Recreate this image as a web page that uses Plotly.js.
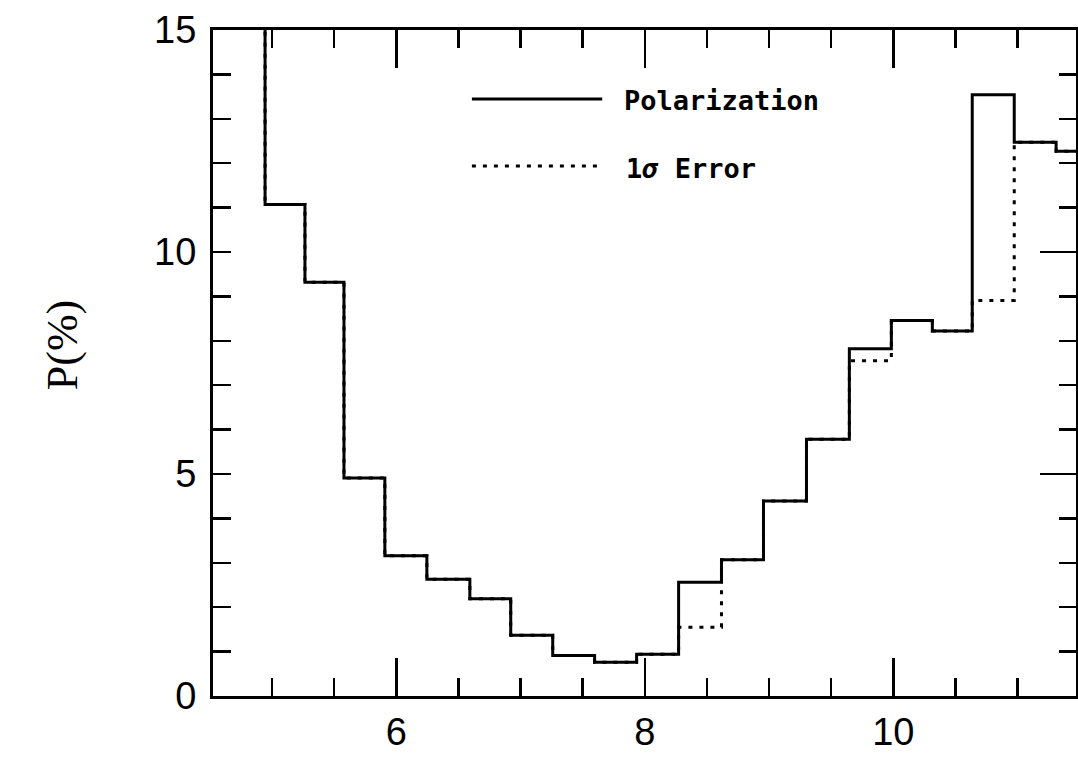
<!DOCTYPE html>
<html>
<head>
<meta charset="utf-8">
<script src="https://cdn.plot.ly/plotly-3.0.1.min.js"></script>
<style>
  html, body { margin: 0; padding: 0; background: #ffffff; }
  #chart { width: 1078px; height: 761px; }
</style>
</head>
<body>
<div id="chart"></div>
<script>
// Bin edges (x); first bin is off-scale (above 15 %)
const binEdges = [4.61, 4.944, 5.265, 5.579, 5.908, 6.246, 6.592, 6.921, 7.259, 7.596, 7.934,
                  8.272, 8.617, 8.955, 9.301, 9.646, 9.984, 10.314, 10.635, 10.973, 11.31, 11.64];
// Polarization per bin (%)
const polarization = [17.0, 11.07, 9.32, 4.91, 3.16, 2.63, 2.19, 1.37, 0.91, 0.76, 0.94,
                      2.56, 3.07, 4.39, 5.78, 7.82, 8.46, 8.22, 13.54, 12.47, 12.27];
// 1-sigma error curve per bin (%)
const errorSigma = [17.0, 11.07, 9.32, 4.91, 3.16, 2.63, 2.19, 1.37, 0.91, 0.76, 0.94,
                    1.55, 3.07, 4.39, 5.78, 7.55, 8.46, 8.22, 8.91, 12.47, 12.27];
const xTickVals = [6, 8, 10];
const yTickVals = [0, 5, 10, 15];
const yTickText = ['0', '5', '10', '15'];
const seriesNames = ['Polarization', '1<i>σ</i> Error'];

function stepXY(edges, vals) {
  const xs = edges.slice(0, vals.length).concat([edges[vals.length]]);
  const ys = vals.concat([vals[vals.length - 1]]);
  return { xs, ys };
}

const pol = stepXY(binEdges, polarization);
const err = stepXY(binEdges, errorSigma);

const traces = [
  {
    x: pol.xs, y: pol.ys, type: 'scatter', mode: 'lines', name: 'Polarization',
    line: { shape: 'hv', color: '#000000', width: 3 },
    xaxis: 'x', yaxis: 'y', showlegend: false, hoverinfo: 'x+y'
  },
  {
    x: err.xs, y: err.ys, type: 'scatter', mode: 'lines', name: '1σ Error',
    line: { shape: 'hv', color: '#000000', width: 3, dash: '4px,7px' },
    xaxis: 'x', yaxis: 'y2', showlegend: false, hoverinfo: 'x+y'
  }
];

const tickFont = { family: 'Liberation Sans, Arial, sans-serif', size: 38, color: '#000000' };
const legendFont = { family: 'DejaVu Sans Mono, Liberation Mono, monospace', size: 27, color: '#000000', weight: 'bold' };

const layout = {
  width: 1078, height: 761,
  margin: { l: 213, r: 2, t: 30, b: 65 },
  paper_bgcolor: '#ffffff', plot_bgcolor: '#ffffff',
  showlegend: false,
  xaxis: {
    range: [4.525, 11.47], autorange: false,
    tickvals: xTickVals, ticktext: xTickVals.map(String),
    ticks: 'inside', ticklen: 38, tickwidth: 2.5, tickcolor: '#000000',
    minor: { dtick: 0.5, tick0: 0, ticks: 'inside', ticklen: 18, tickwidth: 2.5, tickcolor: '#000000', showgrid: false },
    showline: true, linewidth: 3, linecolor: '#000000', mirror: 'ticks',
    showgrid: false, zeroline: false,
    tickfont: tickFont, ticklabelstandoff: 0
  },
  yaxis: {
    range: [0, 15], autorange: false,
    tickvals: yTickVals, ticktext: yTickText,
    ticks: 'inside', ticklen: 18, tickwidth: 2.5, tickcolor: '#000000',
    minor: { dtick: 1, tick0: 0, ticks: 'inside', ticklen: 18, tickwidth: 2.5, tickcolor: '#000000', showgrid: false },
    showline: true, linewidth: 3, linecolor: '#000000', mirror: false,
    showgrid: false, zeroline: false,
    tickfont: tickFont, ticklabelstandoff: 6
  },
  yaxis2: {
    range: [0, 15], autorange: false, overlaying: 'y', side: 'right', anchor: 'x',
    tickvals: yTickVals, showticklabels: false,
    ticks: 'inside', ticklen: 36, tickwidth: 2.5, tickcolor: '#000000',
    minor: { dtick: 1, tick0: 0, ticks: 'inside', ticklen: 17, tickwidth: 2.5, tickcolor: '#000000', showgrid: false },
    showline: true, linewidth: 3, linecolor: '#000000',
    showgrid: false, zeroline: false
  },
  shapes: [
    { type: 'line', xref: 'paper', yref: 'paper', x0: 0.30, x1: 0.451, y0: 0.8965, y1: 0.8965,
      line: { color: '#000000', width: 3 } },
    { type: 'line', xref: 'paper', yref: 'paper', x0: 0.30, x1: 0.451, y0: 0.7958, y1: 0.7958,
      line: { color: '#000000', width: 3, dash: '4px,7px' } }
  ],
  annotations: [
    { xref: 'paper', yref: 'paper', x: 0.4734, y: 0.8946, xanchor: 'left', yanchor: 'middle',
      text: seriesNames[0], showarrow: false, font: legendFont },
    { xref: 'paper', yref: 'paper', x: 0.4765, y: 0.7913, xanchor: 'left', yanchor: 'middle',
      text: seriesNames[1], showarrow: false, font: legendFont },
    { xref: 'paper', yref: 'paper', x: -0.1748, y: 0.527, xanchor: 'center', yanchor: 'middle',
      text: 'P(%)', textangle: -90, showarrow: false,
      font: { family: 'Liberation Serif, Times New Roman, serif', size: 44, color: '#000000' } }
  ]
};

Plotly.newPlot('chart', traces, layout, { displayModeBar: false, staticPlot: true });
</script>
</body>
</html>
